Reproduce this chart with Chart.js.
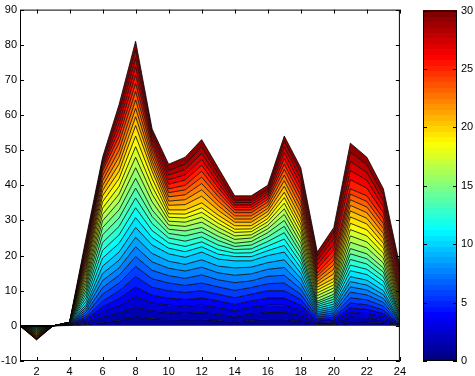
<!DOCTYPE html>
<html>
<head>
<meta charset="utf-8">
<script src="https://cdn.jsdelivr.net/npm/chart.js@4.4.1/dist/chart.umd.min.js"></script>
<style>
  html, body { margin: 0; padding: 0; background: #fff; }
  #wrap { position: relative; width: 475px; height: 376px; }
  #main { position: absolute; left: 0; top: 0; }
  #cbar { position: absolute; left: 410px; top: 0; }
</style>
</head>
<body>
<div id="wrap">
  <canvas id="main" width="410" height="376"></canvas>
  <canvas id="cbar" width="65" height="376"></canvas>
</div>
<script>
// x positions and tick labels
const xValues = [1, 2, 3, 4, 5, 6, 7, 8, 9, 10, 11, 12, 13, 14, 15, 16, 17, 18, 19, 20, 21, 22, 23, 24];
const xTicks = [2, 4, 6, 8, 10, 12, 14, 16, 18, 20, 22, 24];
const yTicks = [-10, 0, 10, 20, 30, 40, 50, 60, 70, 80, 90];
const cbarTicks = [0, 5, 10, 15, 20, 25, 30];

// stacked layers, bottom (dark blue) to top (dark red)
const s01 = [0, 0, 0, 0.1, 0.4, 1.0, 1.6, 2.6, 2.0, 1.8, 1.7, 1.8, 1.5, 1.0, 1.6, 1.8, 1.8, 1.4, 0.4, 0.4, 1.2, 1.1, 0.8, 0.1];
const s02 = [0, 0, 0, 0.1, 0.5, 1.4, 2.0, 2.8, 2.2, 2.0, 1.9, 2.0, 1.8, 1.5, 1.8, 2.0, 2.0, 1.5, 0.4, 0.5, 1.3, 1.2, 0.9, 0.1];
const s03 = [0, 0, 0, 0.15, 0.5, 1.5, 2.1, 2.9, 2.3, 2.1, 2.0, 2.1, 1.9, 1.8, 1.9, 2.1, 2.1, 1.5, 0.4, 0.5, 1.3, 1.2, 0.9, 0.1];
const s04 = [0, 0, 0, 0.12, 0.55, 1.5, 2.1, 2.8, 2.2, 2.0, 1.9, 2.0, 1.9, 1.8, 1.8, 2.0, 2.0, 1.5, 0.4, 0.5, 1.3, 1.2, 0.9, 0.1];
const s05 = [0, 0, 0, 0.13, 0.55, 1.6, 2.2, 2.9, 2.3, 2.1, 2.0, 2.1, 1.9, 1.9, 1.9, 2.1, 2.1, 1.6, 0.4, 0.6, 1.4, 1.3, 1.0, 0.1];
const s06 = [0, 0, 0, 0.1, 0.7, 2.0, 2.2, 2.9, 2.4, 2.2, 2.0, 2.2, 2.1, 2.1, 1.9, 2.0, 2.2, 1.5, 0.5, 0.6, 1.5, 1.4, 1.1, 0.2];
const s07 = [0, 0, 0, 0.1, 0.7, 1.9, 2.2, 2.8, 2.4, 2.1, 2.0, 2.3, 2.0, 2.2, 1.9, 2.1, 2.2, 1.5, 0.5, 0.6, 1.6, 1.4, 1.1, 0.2];
const s08 = [0, 0, 0, 0.1, 0.7, 2.0, 2.1, 2.8, 2.4, 2.1, 2.1, 2.2, 2.0, 2.1, 2.0, 2.0, 2.2, 1.5, 0.5, 0.6, 1.5, 1.4, 1.1, 0.2];
const s09 = [0, -0.1, 0, 0.05, 0.7, 2.0, 2.2, 2.7, 2.4, 2.0, 1.9, 2.1, 1.9, 2.1, 1.9, 1.9, 2.2, 1.5, 0.5, 0.6, 1.5, 1.4, 1.1, 0.2];
const s10 = [0, -0.2, 0, 0.05, 0.7, 2.1, 2.3, 2.8, 2.4, 2.1, 2.0, 2.2, 2.0, 2.0, 1.8, 2.0, 2.2, 1.5, 0.5, 0.6, 1.4, 1.4, 1.1, 0.2];
const s11 = [0, -0.2, 0, 0, 1.0, 2.3, 2.5, 2.8, 2.1, 1.6, 1.6, 1.5, 1.4, 1.2, 1.2, 1.4, 1.9, 1.5, 0.5, 0.7, 1.7, 1.6, 1.4, 0.4];
const s12 = [0, -0.2, 0, 0, 1.0, 2.2, 2.4, 2.8, 2.0, 1.5, 1.5, 1.4, 1.3, 1.0, 1.1, 1.3, 1.8, 1.4, 0.5, 0.7, 1.6, 1.5, 1.3, 0.4];
const s13 = [0, -0.2, 0, 0, 1.0, 2.2, 2.4, 2.8, 2.0, 1.4, 1.5, 1.4, 1.3, 1.0, 1.1, 1.3, 1.8, 1.4, 0.5, 0.7, 1.6, 1.5, 1.3, 0.4];
const s14 = [0, -0.2, 0, 0, 1.0, 2.2, 2.4, 2.8, 2.0, 1.3, 1.5, 1.4, 1.3, 0.9, 1.1, 1.3, 1.8, 1.4, 0.5, 0.7, 1.6, 1.5, 1.3, 0.4];
const s15 = [0, -0.2, 0, 0, 1.0, 2.1, 2.3, 2.8, 1.9, 1.2, 1.4, 1.3, 1.2, 0.9, 1.0, 1.2, 1.7, 1.3, 0.5, 0.7, 1.5, 1.4, 1.2, 0.4];
const s16 = [0, -0.2, 0, 0, 1.0, 1.9, 2.3, 3.0, 2.3, 1.2, 1.3, 1.5, 1.3, 1.1, 1.0, 1.1, 1.7, 1.5, 0.8, 0.9, 1.8, 1.7, 1.4, 0.6];
const s17 = [0, -0.2, 0, 0, 1.0, 1.8, 2.2, 3.0, 2.2, 1.1, 1.2, 1.4, 1.2, 1.0, 0.9, 1.0, 1.6, 1.4, 0.8, 0.9, 1.8, 1.7, 1.4, 0.6];
const s18 = [0, -0.2, 0, 0, 1.0, 1.8, 2.2, 3.0, 2.2, 1.1, 1.2, 1.4, 1.2, 1.0, 0.9, 1.0, 1.6, 1.4, 0.8, 0.9, 1.8, 1.7, 1.4, 0.6];
const s19 = [0, -0.2, 0, 0, 1.0, 1.8, 2.2, 3.0, 2.2, 1.0, 1.1, 1.3, 1.1, 0.9, 0.8, 0.9, 1.6, 1.4, 0.8, 0.9, 1.8, 1.7, 1.4, 0.6];
const s20 = [0, -0.2, 0, 0, 1.0, 1.7, 2.1, 3.0, 2.1, 1.1, 1.2, 1.4, 1.2, 1.0, 0.9, 1.0, 1.5, 1.3, 0.8, 0.9, 1.8, 1.7, 1.4, 0.6];
const s21 = [0, -0.2, 0, 0, 0.9, 1.5, 2.1, 2.5, 1.5, 1.3, 1.5, 1.9, 1.4, 1.0, 1.0, 1.0, 1.7, 1.6, 0.8, 1.3, 1.7, 1.6, 1.4, 0.8];
const s22 = [0, -0.2, 0, 0, 0.9, 1.4, 2.0, 2.4, 1.4, 1.2, 1.4, 1.8, 1.3, 0.9, 0.9, 0.9, 1.6, 1.6, 0.8, 1.3, 1.6, 1.6, 1.4, 0.8];
const s23 = [0, -0.2, 0, 0, 0.9, 1.4, 1.9, 2.4, 1.4, 1.2, 1.4, 1.8, 1.3, 0.9, 0.9, 0.9, 1.6, 1.6, 0.8, 1.3, 1.6, 1.6, 1.4, 0.8];
const s24 = [0, -0.2, 0, 0, 0.9, 1.4, 2.1, 2.4, 1.4, 1.2, 1.4, 1.8, 1.3, 0.9, 0.9, 0.9, 1.6, 1.6, 0.8, 1.3, 1.6, 1.6, 1.4, 0.8];
const s25 = [0, -0.2, 0, 0, 0.9, 1.3, 1.9, 2.3, 1.3, 1.1, 1.3, 1.7, 1.2, 0.8, 0.8, 0.8, 1.5, 1.6, 0.8, 1.3, 1.5, 1.6, 1.4, 0.8];
const s26 = [0, -0.15, 0, 0, 0.9, 0.8, 1.8, 2.4, 1.0, 1.3, 1.5, 1.7, 1.3, 0.7, 0.7, 0.7, 1.6, 1.6, 1.2, 1.6, 2.6, 2.2, 1.7, 1.3];
const s27 = [0, -0.15, 0, 0, 0.9, 0.8, 1.8, 2.4, 1.0, 1.3, 1.5, 1.7, 1.3, 0.7, 0.7, 0.7, 1.7, 1.6, 1.2, 1.6, 2.6, 2.2, 1.7, 1.3];
const s28 = [0, -0.15, 0, 0, 0.9, 0.8, 1.8, 2.4, 1.0, 1.3, 1.5, 1.7, 1.3, 0.7, 0.7, 0.7, 1.6, 1.6, 1.2, 1.6, 2.6, 2.2, 1.7, 1.3];
const s29 = [0, -0.15, 0, 0, 0.9, 0.8, 1.8, 2.4, 1.0, 1.3, 1.5, 1.8, 1.3, 0.7, 0.7, 0.7, 1.6, 1.7, 1.2, 1.6, 2.6, 2.2, 1.7, 1.3];
const s30 = [0, -0.1, 0, 0, 0.9, 0.8, 1.8, 2.4, 1.0, 1.8, 2.0, 2.1, 1.8, 1.2, 1.2, 1.2, 1.5, 1.5, 1.2, 1.6, 2.6, 2.2, 1.7, 1.3];

const layers = [s01, s02, s03, s04, s05, s06, s07, s08, s09, s10,
                s11, s12, s13, s14, s15, s16, s17, s18, s19, s20,
                s21, s22, s23, s24, s25, s26, s27, s28, s29, s30];

const cMin = 0, cMax = 30;
const FONT = { family: "'Liberation Sans', Arial, Helvetica, sans-serif", size: 11 };

// matlab-like jet colormap
function jet(t) {
    const c = v => Math.round(255 * Math.max(0, Math.min(1, v)));
    const r = c(1.5 - Math.abs(4 * t - 3));
    const g = c(1.5 - Math.abs(4 * t - 2));
    const b = c(1.5 - Math.abs(4 * t - 1));
    return `rgb(${r},${g},${b})`;
}

// inward tick marks + box, matlab style
const boxTicks = {
    id: "boxTicks",
    afterDraw(chart, args, opts) {
        const { ctx, chartArea: a } = chart;
        const len = 4;
        ctx.save();
        ctx.strokeStyle = "#000";
        ctx.lineWidth = 1;
        ctx.strokeRect(a.left + 0.5, a.top + 0.5, a.right - a.left - 1, a.bottom - a.top - 1);
        ctx.beginPath();
        if (opts.x) {
            const xs = chart.scales.x;
            xs.ticks.forEach(t => {
                const px = Math.round(xs.getPixelForValue(t.value)) + 0.5;
                ctx.moveTo(px, a.bottom); ctx.lineTo(px, a.bottom - len);
                ctx.moveTo(px, a.top); ctx.lineTo(px, a.top + len);
            });
        }
        const ys = chart.scales.y;
        ys.ticks.forEach(t => {
            const py = Math.round(ys.getPixelForValue(t.value)) + 0.5;
            ctx.moveTo(a.left, py); ctx.lineTo(a.left + len, py);
            ctx.moveTo(a.right, py); ctx.lineTo(a.right - len, py);
        });
        ctx.stroke();
        ctx.restore();
    }
};

// colour strip inside the colorbar chart area
const jetStrip = {
    id: "jetStrip",
    beforeDatasetsDraw(chart) {
        const { ctx, chartArea: a } = chart;
        const ys = chart.scales.y;
        const n = 64;
        for (let i = 0; i < n; i++) {
            const v0 = cMin + (cMax - cMin) * i / n;
            const v1 = cMin + (cMax - cMin) * (i + 1) / n;
            const y0 = ys.getPixelForValue(v0);
            const y1 = ys.getPixelForValue(v1);
            ctx.fillStyle = jet(i / (n - 1));
            ctx.fillRect(a.left, Math.floor(y1), a.right - a.left, Math.ceil(y0) - Math.floor(y1));
        }
    }
};

const datasets = layers.map((vals, i) => ({
    label: "s" + (i + 1),
    data: vals.map((v, j) => ({ x: xValues[j], y: v })),
    backgroundColor: jet((i + 0.5) / layers.length),
    borderColor: "#000",
    borderWidth: 0.8,
    pointRadius: 0,
    tension: 0,
    fill: i === 0 ? "origin" : "-1",
}));

const noGrid = { display: false, drawTicks: false, tickLength: 0 };

new Chart(document.getElementById("main"), {
    type: "line",
    data: { datasets },
    options: {
        responsive: false,
        animation: false,
        layout: { padding: { left: 0, top: 9, right: 8, bottom: 0 } },
        plugins: {
            legend: { display: false },
            tooltip: { enabled: false },
            boxTicks: { x: true },
        },
        scales: {
            x: {
                type: "linear",
                min: 1,
                max: 24,
                grid: noGrid,
                border: { display: false },
                afterBuildTicks: s => { s.ticks = xTicks.map(v => ({ value: v })); },
                afterFit: s => { s.height = 15; },
                ticks: { color: "#000", font: FONT, padding: 4, maxRotation: 0, autoSkip: false },
            },
            y: {
                stacked: true,
                min: -10,
                max: 90,
                grid: noGrid,
                border: { display: false },
                afterBuildTicks: s => { s.ticks = yTicks.map(v => ({ value: v })); },
                afterFit: s => { s.width = 20; },
                ticks: { color: "#000", font: FONT, padding: 3 },
            },
        },
    },
    plugins: [boxTicks],
});

new Chart(document.getElementById("cbar"), {
    type: "bar",
    data: { labels: [""], datasets: [] },
    options: {
        responsive: false,
        animation: false,
        layout: { padding: { left: 13, top: 9, right: 0, bottom: 15 } },
        plugins: { legend: { display: false }, tooltip: { enabled: false }, boxTicks: { x: false } },
        scales: {
            x: { display: false },
            y: {
                position: "right",
                min: cMin,
                max: cMax,
                grid: noGrid,
                border: { display: false },
                afterBuildTicks: s => { s.ticks = cbarTicks.map(v => ({ value: v })); },
                afterFit: s => { s.width = 18; },
                ticks: { color: "#000", font: FONT, padding: 4 },
            },
        },
    },
    plugins: [jetStrip, boxTicks],
});
</script>
</body>
</html>
